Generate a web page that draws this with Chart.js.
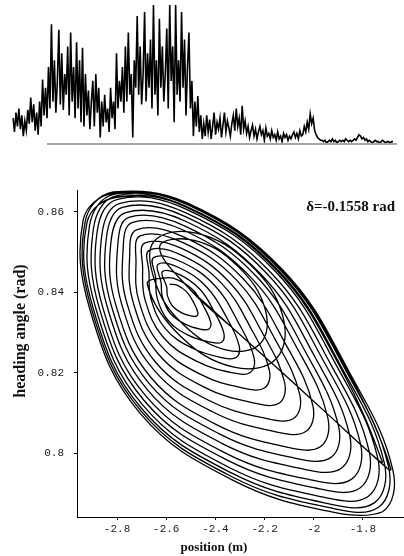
<!DOCTYPE html>
<html>
<head>
<meta charset="utf-8">
<script src="https://cdn.jsdelivr.net/npm/chart.js@4.4.0/dist/chart.umd.min.js"></script>
<style>
  html, body { margin: 0; padding: 0; background: #fff; }
  #wrap { position: relative; width: 404px; height: 556px; overflow: hidden; }
  #topBox { position: absolute; left: 0; top: 0; width: 404px; height: 150px; }
  #mainBox { position: absolute; left: 0; top: 150px; width: 404px; height: 406px; }
</style>
</head>
<body>
<div id="wrap">
  <div id="topBox"><canvas id="top"></canvas></div>
  <div id="mainBox"><canvas id="main"></canvas></div>
</div>
<script>
// top strip: signal height (0..100), left to right
const spectrum = [
  18, 8, 22, 12, 25, 10, 20, 5, 16, 9, 24, 14, 33, 15, 28, 9, 22, 6, 30, 12, 46,
  20, 40, 18, 55, 25, 86, 30, 60, 22, 45, 82, 28, 65, 24, 50, 35, 70, 20, 80, 30, 55, 18, 73, 25, 60, 15, 69, 12, 50, 20, 38, 10, 30, 45, 12, 50, 22, 40, 4,
  30, 12, 35, 15, 25, 8, 40, 18, 30, 10,
  65, 25, 45, 30, 55, 22, 70, 30, 80, 35, 50, 4, 60, 40, 92, 35, 70, 28, 50, 95, 30, 65, 40, 75, 25, 100, 35, 60, 20, 90, 40, 70, 30, 50, 83, 25, 100, 45, 70, 15, 100, 35, 60, 30, 95, 40, 75, 20, 55, 80, 25, 45,
  5, 30, 12, 34, 8, 20, 3,
  14, 5, 20, 8, 17, 3, 12, 22, 6, 15, 10, 18, 4, 13, 22, 8, 16, 11, 5, 14, 20, 9, 25, 12, 18, 6, 27, 10, 16, 7,
  12, 4, 9, 13, 5, 10, 3, 8, 12, 6, 9, 2, 11, 5, 7, 3, 9, 4, 6, 2, 8, 3, 5, 1, 7, 4, 6, 2, 5, 3, 6, 8, 4, 7, 3, 9, 5,
  6, 12, 8, 15, 10, 21, 14, 18, 9, 6, 4, 3, 2,
  2, 1, 2, 0, 1, 2, 1, 3, 1, 2, 0, 1, 2, 1, 2, 1, 3, 2, 1, 2, 1, 2, 3, 2, 4, 6, 5, 3, 4, 2, 3, 1, 2, 1, 0, 1, 2, 1, 1, 0, 1, 2, 1, 0, 1, 1, 0, 1, 1
];

// phase portrait, first run of growing loops (position m / heading rad)
const loopAx = [
  -2.586, -2.556, -2.517, -2.489, -2.472, -2.476, -2.496, -2.537, -2.575, -2.595, -2.598,
  -2.616, -2.550, -2.464, -2.405, -2.366, -2.375, -2.420, -2.509, -2.592, -2.637, -2.643,
  -2.652, -2.544, -2.403, -2.306, -2.243, -2.258, -2.330, -2.477, -2.613, -2.686, -2.696,
  -2.688, -2.538, -2.343, -2.207, -2.119, -2.140, -2.241, -2.444, -2.634, -2.735, -2.749,
  -2.721, -2.532, -2.286, -2.115, -2.004, -2.031, -2.158, -2.414, -2.653, -2.781, -2.798,
  -2.752, -2.526, -2.234, -2.030, -1.899, -1.930, -2.082, -2.386, -2.670, -2.823, -2.844,
  -2.778, -2.522, -2.190, -1.959, -1.810, -1.846, -2.018, -2.363, -2.685, -2.858, -2.881,
  -2.798, -2.518, -2.155, -1.903, -1.740, -1.779, -1.967, -2.344, -2.697, -2.886, -2.912,
  -2.811, -2.516, -2.134, -1.867, -1.696, -1.737, -1.935, -2.333, -2.704, -2.903, -2.930,
  -2.816, -2.515, -2.125, -1.853, -1.678, -1.720, -1.922, -2.328, -2.707, -2.910, -2.938,
  -2.813, -2.515, -2.129, -1.860, -1.687
];
const loopAy = [
  0.8420, 0.8418, 0.8401, 0.8375, 0.8351, 0.8341, 0.8341, 0.8349, 0.8366, 0.8391, 0.8413,
  0.8451, 0.8445, 0.8408, 0.8352, 0.8299, 0.8276, 0.8276, 0.8293, 0.8330, 0.8386, 0.8436,
  0.8486, 0.8477, 0.8417, 0.8324, 0.8238, 0.8201, 0.8200, 0.8229, 0.8289, 0.8381, 0.8461,
  0.8522, 0.8509, 0.8425, 0.8297, 0.8177, 0.8125, 0.8125, 0.8164, 0.8248, 0.8376, 0.8487,
  0.8555, 0.8538, 0.8433, 0.8272, 0.8120, 0.8055, 0.8054, 0.8104, 0.8209, 0.8370, 0.8511,
  0.8586, 0.8565, 0.8440, 0.8248, 0.8067, 0.7990, 0.7989, 0.8049, 0.8174, 0.8366, 0.8533,
  0.8611, 0.8588, 0.8446, 0.8228, 0.8024, 0.7936, 0.7935, 0.8002, 0.8144, 0.8362, 0.8551,
  0.8631, 0.8606, 0.8451, 0.8213, 0.7989, 0.7893, 0.7892, 0.7965, 0.8121, 0.8359, 0.8566,
  0.8644, 0.8618, 0.8454, 0.8203, 0.7967, 0.7866, 0.7865, 0.7942, 0.8106, 0.8357, 0.8575,
  0.8649, 0.8622, 0.8455, 0.8199, 0.7958, 0.7855, 0.7854, 0.7933, 0.8100, 0.8356, 0.8579,
  0.8646, 0.8620, 0.8454, 0.8201, 0.7962
];

// rounder loops crossing the middle (the "heart" around the focus)
const loopCx = [
  -2.627, -2.487, -2.310, -2.198, -2.217, -2.357, -2.534, -2.646,
  -2.650, -2.478, -2.261, -2.126, -2.153, -2.325, -2.542, -2.677
];
const loopCy = [
  0.8513, 0.8529, 0.8465, 0.8359, 0.8273, 0.8257, 0.8322, 0.8427,
  0.8526, 0.8547, 0.8470, 0.8341, 0.8235, 0.8214, 0.8291, 0.8420
];

// second run of loops
const loopBx = [
  -2.601, -2.553, -2.490, -2.447, -2.419, -2.426, -2.458, -2.523, -2.584, -2.616, -2.621,
  -2.634, -2.547, -2.434, -2.355, -2.304, -2.316, -2.375, -2.493, -2.603, -2.662, -2.670,
  -2.670, -2.541, -2.373, -2.256, -2.181, -2.199, -2.286, -2.460, -2.623, -2.711, -2.723,
  -2.706, -2.534, -2.312, -2.157, -2.057, -2.081, -2.196, -2.428, -2.644, -2.760, -2.776,
  -2.739, -2.529, -2.256, -2.065, -1.943, -1.972, -2.113, -2.398, -2.663, -2.805, -2.825,
  -2.765, -2.524, -2.212, -1.994, -1.854, -1.888, -2.050, -2.374, -2.678, -2.840, -2.862,
  -2.788, -2.520, -2.173, -1.931, -1.775, -1.812, -1.992, -2.354, -2.691, -2.872, -2.896,
  -2.806, -2.517, -2.142, -1.881, -1.713, -1.754, -1.948, -2.337, -2.701, -2.896, -2.923,
  -2.803, -2.517, -2.147, -1.888, -1.722
];
const loopBy = [
  0.8436, 0.8431, 0.8405, 0.8364, 0.8325, 0.8309, 0.8308, 0.8321, 0.8348, 0.8389, 0.8424,
  0.8469, 0.8461, 0.8412, 0.8338, 0.8268, 0.8238, 0.8238, 0.8261, 0.8309, 0.8384, 0.8448,
  0.8504, 0.8493, 0.8421, 0.8311, 0.8207, 0.8163, 0.8162, 0.8196, 0.8268, 0.8378, 0.8474,
  0.8540, 0.8524, 0.8429, 0.8283, 0.8146, 0.8087, 0.8087, 0.8132, 0.8227, 0.8373, 0.8500,
  0.8573, 0.8554, 0.8437, 0.8258, 0.8089, 0.8017, 0.8016, 0.8072, 0.8189, 0.8368, 0.8524,
  0.8598, 0.8577, 0.8443, 0.8238, 0.8045, 0.7963, 0.7962, 0.8025, 0.8159, 0.8364, 0.8542,
  0.8621, 0.8597, 0.8448, 0.8221, 0.8006, 0.7914, 0.7914, 0.7984, 0.8132, 0.8360, 0.8559,
  0.8639, 0.8613, 0.8453, 0.8207, 0.7976, 0.7877, 0.7876, 0.7952, 0.8112, 0.8358, 0.8572,
  0.8636, 0.8611, 0.8452, 0.8209, 0.7980
];

// straight return band from the lower right tip back to the inner spiral
const returnX = [-1.76, -1.93, -2.125, -2.32, -2.50];
const returnY = [0.7995, 0.8090, 0.8199, 0.8306, 0.8405];

const xTicks = [-2.8, -2.6, -2.4, -2.2, -2, -1.8];
const xTickLabels = ['-2.8', '-2.6', '-2.4', '-2.2', '-2', '-1.8'];
const yTicks = [0.80, 0.82, 0.84, 0.86];
const yTickLabels = ['0.8', '0.82', '0.84', '0.86'];

const pts = (xs, ys) => xs.map((x, i) => ({ x: x, y: ys[i] }));
const trajectory = [].concat(
  pts(loopAx, loopAy), pts(returnX, returnY), pts(loopCx, loopCy),
  pts(loopBx, loopBy), pts(returnX, returnY)
);

// ---- top strip ----
const baseline = {
  id: 'baseline',
  afterDatasetsDraw(chart) {
    const a = chart.chartArea, c = chart.ctx;
    c.save();
    c.strokeStyle = '#8a8a8a';
    c.lineWidth = 1.5;
    c.beginPath();
    c.moveTo(a.left + 34, a.bottom + 1);
    c.lineTo(a.right + 4, a.bottom + 1);
    c.stroke();
    c.restore();
  }
};

new Chart(document.getElementById('top'), {
  type: 'line',
  data: {
    labels: spectrum.map((v, i) => i),
    datasets: [{ data: spectrum, borderColor: '#000', borderWidth: 1.6, pointRadius: 0, tension: 0 }]
  },
  options: {
    responsive: true, maintainAspectRatio: false, animation: false,
    layout: { padding: { left: 13, right: 11, top: 5, bottom: 7 } },
    plugins: { legend: { display: false }, tooltip: { enabled: false } },
    scales: {
      x: { display: false },
      y: { display: false, min: 0, max: 100 }
    }
  },
  plugins: [baseline]
});

// ---- phase portrait ----
const labels = {
  id: 'labels',
  afterDraw(chart) {
    const a = chart.chartArea, c = chart.ctx;
    c.save();
    c.fillStyle = '#111';
    c.font = 'bold 13px "Liberation Serif"';
    c.textAlign = 'center';
    c.textBaseline = 'middle';
    c.fillText('position (m)', a.left + 137, a.bottom + 31);
    c.font = 'bold 16px "Liberation Serif"';
    c.translate(21, a.top + 141);
    c.rotate(-Math.PI / 2);
    c.fillText('heading angle (rad)', 0, 0);
    c.restore();
    c.save();
    c.fillStyle = '#111';
    c.font = 'bold 15px "Liberation Serif"';
    c.textAlign = 'right';
    c.textBaseline = 'middle';
    c.fillText('\u03b4=-0.1558 rad', a.right - 9, a.top + 17);
    c.restore();
  }
};

const tickFont = { family: '"Liberation Mono", monospace', size: 11 };

new Chart(document.getElementById('main'), {
  type: 'scatter',
  data: {
    datasets: [{
      data: trajectory, showLine: true, borderColor: '#000', borderWidth: 1.3,
      pointRadius: 0, tension: 0.4
    }]
  },
  options: {
    responsive: true, maintainAspectRatio: false, animation: false,
    layout: { padding: { left: 0, right: 0, top: 40, bottom: 0 } },
    plugins: { legend: { display: false }, tooltip: { enabled: false } },
    scales: {
      x: {
        type: 'linear', min: -2.963, max: -1.633,
        afterBuildTicks: s => { s.ticks = xTicks.map(v => ({ value: v })); },
        afterFit: s => { s.height = 39; },
        ticks: { callback: (v, i) => xTickLabels[i], color: '#222', font: tickFont, padding: 2, maxRotation: 0 },
        grid: { drawOnChartArea: false, tickLength: 3, color: '#000' },
        border: { color: '#000', width: 1 }
      },
      y: {
        min: 0.7842, max: 0.8654,
        afterBuildTicks: s => { s.ticks = yTicks.map(v => ({ value: v })); },
        afterFit: s => { s.width = 77; },
        ticks: { callback: (v, i) => yTickLabels[i], color: '#222', font: tickFont, padding: 10 },
        grid: { drawOnChartArea: false, tickLength: 3, color: '#000' },
        border: { color: '#000', width: 1 }
      }
    }
  },
  plugins: [labels]
});
</script>
</body>
</html>
